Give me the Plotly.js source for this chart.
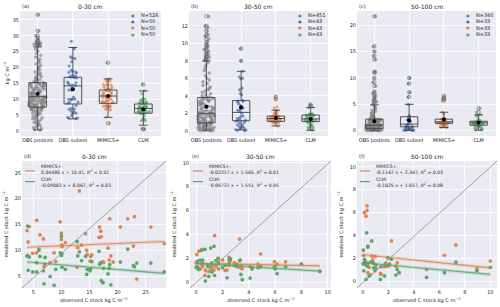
<!DOCTYPE html>
<html><head><meta charset="utf-8">
<script src="https://cdn.plot.ly/plotly-3.0.1.min.js"></script>
<style>html,body{margin:0;padding:0;background:#fff}#chart{width:500px;height:307px}</style>
</head><body><div id="chart"></div>
<script>
const categories = ['OBS podzols','OBS subset','MIMICS+','CLM'];
const depthTitles = ['0-30 cm','30-50 cm','50-100 cm'];
const panelLetters = ['(a)','(b)','(c)','(d)','(e)','(f)'];
const sampleCounts = [[528,50,50,50],[451,43,43,43],[340,33,33,33]];
const seriesColors = ['#808080','#4c72b0','#dd8452','#55a868'];

// ---- OBS podzols (all profiles), estimated from the strips
const podzol030 = [0.3,0.5,0.8,1.1,1.3,1.7,1.9,2.2,2.5,2.7,3.0,3.3,3.5,3.8,3.9,4.2,4.4,4.7,4.8,5.0,5.3,5.4,5.6,5.7,5.9,6.1,6.2,6.4,6.5,6.7,6.8,6.9,7.0,7.1,7.2,7.3,7.4,7.5,
 7.6,7.7,7.8,7.9,7.9,8.0,8.1,8.2,8.3,8.4,8.4,8.5,8.6,8.7,8.8,8.9,9.0,9.1,9.1,9.2,9.3,9.4,9.5,9.6,9.7,9.8,9.8,9.9,10.0,10.1,10.2,10.3,10.4,10.5,10.6,10.7,10.7,10.8,
 10.9,11.0,11.2,11.3,11.4,11.6,11.7,11.8,11.9,12.1,12.2,12.3,12.5,12.6,12.7,12.9,13.0,13.1,13.3,13.4,13.5,13.6,13.8,13.9,14.0,14.1,14.2,14.3,14.5,14.6,14.7,14.8,14.9,15.0,15.1,15.2,
 15.4,15.6,15.9,16.1,16.3,16.5,16.8,17.1,17.3,17.7,18.0,18.3,18.6,19.0,19.4,19.8,20.2,20.6,21.1,21.5,22.1,22.6,23.2,23.8,24.4,25.1,25.7,26.4,26.9,27.2,27.3,27.5,27.7,28.1,28.6,29.3,30.0,31.5,36.6];
const podzol3050 = [0.0,0.02,0.05,0.07,0.1,0.12,0.15,0.18,0.2,0.22,0.25,0.28,0.3,0.33,0.36,0.4,0.43,0.46,0.5,0.53,0.56,0.6,0.63,0.66,0.7,0.72,0.75,0.78,0.8,0.84,0.87,0.9,
 0.93,0.96,1.0,1.03,1.06,1.1,1.13,1.16,1.2,1.24,1.28,1.32,1.36,1.4,1.44,1.48,1.52,1.56,1.6,1.63,1.66,1.7,1.73,1.76,1.8,1.83,1.86,1.9,1.92,1.95,1.98,2.0,
 2.05,2.1,2.15,2.2,2.26,2.32,2.38,2.44,2.5,2.56,2.62,2.68,2.74,2.8,2.86,2.92,2.98,3.04,3.1,3.16,3.22,3.28,3.34,3.4,3.45,3.5,3.55,3.6,3.65,3.7,3.75,3.8,
 3.9,4.0,4.1,4.25,4.4,4.55,4.7,4.85,5.0,5.2,5.4,5.6,5.8,6.0,6.3,6.6,6.9,7.2,7.5,7.8,8.0,8.1,8.2,8.4,8.5,8.7,8.9,9.1,9.3,9.5,9.7,9.9,10.2,10.5,10.8,11.0,11.4,11.8,12.0,13.1];
const podzol50100 = [0.0,0.02,0.04,0.05,0.07,0.09,0.1,0.12,0.14,0.15,0.17,0.19,0.2,0.22,0.24,0.26,0.28,0.3,0.32,0.34,0.36,0.38,0.4,0.42,0.44,0.45,
 0.47,0.5,0.52,0.55,0.57,0.6,0.62,0.64,0.67,0.7,0.72,0.74,0.77,0.8,0.82,0.84,0.87,0.9,0.92,0.94,0.96,0.98,1.0,1.02,1.04,1.05,
 1.1,1.14,1.18,1.22,1.26,1.3,1.35,1.4,1.45,1.5,1.55,1.6,1.65,1.7,1.75,1.8,1.85,1.9,1.95,2.0,2.04,2.08,2.12,2.15,2.18,2.2,
 2.3,2.45,2.6,2.75,2.9,3.1,3.3,3.5,3.7,3.9,4.1,4.3,4.6,4.9,5.2,5.5,5.8,6.2,6.6,7.0,7.4,8.5,9.2,10.0,11.0,11.2,13.5,14.2,15.0,16.0,21.7];

// ---- paired subset: observed vs modelled (MIMICS+, CLM)
const obs030    = [3.9,4.0,4.1,4.3,4.9,5.6,5.6,6.0,6.2,6.8,6.9,7.1,8.0,8.7,9.0,9.1,9.8,10.0,10.0,10.1,10.1,10.7,12.8,12.9,13.2,13.6,14.3,14.5,14.6,15.1,15.2,15.4,16.7,16.8,17.0,17.1,17.4,17.5,18.3,18.5,18.6,18.8,19.2,20.5,21.8,22.8,23.0,23.4,25.9,28.3];
const mimics030 = [13.8,9.0,11.6,14.6,9.4,15.8,9.5,10.2,13.0,12.2,6.8,7.3,7.6,9.5,7.8,2.4,15.5,13.3,12.1,10.7,11.0,11.5,6.7,10.5,21.5,11.0,13.2,10.0,9.2,7.9,8.8,9.1,12.5,14.5,13.7,12.6,7.8,7.6,10.4,8.1,16.1,8.9,7.7,14.5,16.1,10.8,16.5,4.4,14.5,11.3];
const clm030    = [8.9,14.7,6.1,8.7,5.8,7.6,5.8,10.0,8.8,6.0,3.5,8.6,4.9,3.2,6.3,0.7,9.5,12.7,9.0,6.7,9.3,6.3,11.7,8.9,9.7,8.0,8.8,5.3,6.3,6.0,6.4,7.8,9.8,7.3,7.6,4.1,3.7,6.5,5.4,6.5,7.2,3.3,0.5,7.7,10.2,7.0,6.8,7.5,7.5,5.8];
const obs3050    = [0.0,0.05,0.1,0.15,0.2,0.3,0.4,0.45,0.5,0.66,0.7,0.9,0.96,1.1,1.2,1.2,1.35,1.4,1.5,1.67,1.7,2.0,2.2,2.35,2.5,2.5,2.6,2.9,3.1,3.3,3.35,3.4,3.5,4.1,4.25,4.7,4.9,5.95,6.0,6.15,6.8,8.0,9.4];
const mimics3050 = [1.6,2.3,1.3,1.2,2.6,1.1,1.5,2.75,1.3,0.55,1.0,1.4,0.9,1.2,1.1,1.4,1.0,3.9,1.3,2.0,1.1,1.85,0.97,1.0,1.4,2.1,1.8,1.6,1.5,3.6,1.2,1.4,1.1,1.3,1.2,1.5,2.35,1.7,1.3,1.5,1.7,1.5,0.9];
const clm3050    = [1.25,1.2,1.75,1.1,1.05,1.85,2.65,1.6,1.85,2.75,0.08,1.3,0.47,2.85,0.85,1.6,3.0,0.55,1.8,1.95,1.6,1.2,1.4,0.36,1.9,1.6,1.95,1.4,1.3,1.8,1.85,0.64,0.2,0.33,1.1,1.2,1.3,1.3,1.1,0.7,1.3,1.5,0.9];
const obs50100    = [0.05,0.05,0.08,0.13,0.18,0.26,0.31,0.34,0.34,0.4,0.4,0.5,0.6,0.7,0.78,0.86,0.96,1.04,1.38,1.43,1.7,1.8,1.95,2.1,2.25,2.6,2.7,2.85,5.0,6.4,7.3,8.95,10.0];
const mimics50100 = [2.3,1.6,1.5,6.0,1.75,5.7,1.4,6.6,6.2,1.35,0.78,1.25,0.6,2.25,1.9,1.6,2.2,1.15,0.7,0.65,1.3,1.6,1.35,1.55,3.55,1.35,1.65,0.78,1.07,2.3,3.2,1.15,1.8];
const clm50100    = [2.75,1.55,0.95,1.95,1.8,0.2,4.25,1.6,1.4,3.1,3.0,0.5,1.7,3.55,1.65,1.2,0.95,1.45,0.2,1.3,0.5,1.45,2.1,1.45,1.95,0.58,1.07,0.8,0.38,0.78,1.7,0.96,1.25];

// ---- box statistics (order: podzols, subset, MIMICS+, CLM)
const boxQ1     = [[7.5,8.5,8.7,5.6],[0.9,1.15,1.07,1.05],[0.45,0.75,1.4,1.05]];
const boxMedian = [[10.8,14.2,11.0,7.1],[2.0,2.1,1.4,1.35],[1.05,1.25,1.7,1.5]];
const boxQ3     = [[15.2,16.9,12.9,8.5],[3.8,3.45,1.68,1.8],[2.2,2.65,2.2,1.8]];
const boxLow    = [[0.3,3.8,4.3,1.8],[0.0,0.1,0.55,0.05],[0.0,0.05,0.6,0.1]];
const boxHigh   = [[26.5,26.3,16.4,12.6],[8.0,6.8,2.35,2.65],[4.9,5.0,3.5,3.0]];
const boxMean   = [[11.7,13.1,11.0,6.8],[2.75,2.7,1.45,1.35],[1.8,2.0,2.15,1.5]];
const outliers030   = [[26.9,27.2,27.3,27.5,27.7,28.1,28.6,29.3,30.0,31.5,36.6],[],[21.5,2.4],[14.6,0.7,0.5]];
const outliers3050  = [[8.1,8.2,8.4,8.5,8.7,8.9,9.1,9.3,9.5,9.7,9.9,10.2,10.5,10.8,11.0,11.4,11.8,12.0,13.1],[8.0,9.4],[3.6,3.9],[2.85,3.0]];
const outliers50100 = [[5.2,5.5,5.8,6.2,6.6,7.0,7.4,8.5,9.2,10.0,11.0,11.2,13.5,14.2,15.0,16.0,21.7],[6.4,7.3,8.95,10.0],[5.7,6.0,6.2,6.6],[3.55,4.25]];

// ---- regression fits shown in legends
const fitSlopeMimics = [0.04486,-0.02217,-0.1147];
const fitInterMimics = [10.41,1.565,2.347];
const fitR2Mimics    = ['0.01','0.01','0.03'];
const fitSlopeClm    = [-0.09003,-0.06731,-0.1025];
const fitInterClm    = [8.067,1.551,1.657];
const fitR2Clm       = ['0.03','0.05','0.08'];

// ---- layout geometry (pixels)
const W = 500, H = 307;
const topX = [[20,161],[189,328],[357,496]], topY = [11,136];
const botX = [[22,166],[190,331],[357,497]], botY = [161,288];
const topRanges = [[-1.6,37.8],[-0.6,13.7],[-1.0,22.7]];
const topDtick = [5,2,5];
const botRanges = [[[3.0,28.6],[2.675,27.3]],[[-0.47,10.25],[-0.5,10.15]],[[-0.45,10.52],[-0.55,10.5]]];
const botDtick = [5,2,2];
const legTextRows = [5.6, 11.3, 18.0, 23.7];   // px below top of lower panels
const legLineRows = [10.0, 20.6];
const px = v => v / W, py = v => 1 - v / H;

const textColor = '#262626';
const FT = 'DejaVu Sans, sans-serif';
const traces = [];
const annotations = [];
const shapes = [];
const layout = {
  width: W, height: H, margin: {l:0,r:0,t:0,b:0},
  paper_bgcolor: '#ffffff', plot_bgcolor: '#eaeaf2',
  showlegend: false, boxmode: 'overlay',
  font: {family: FT, size: 5, color: textColor},
  annotations, shapes
};
function axBase(extra){
  return Object.assign({showline:false, zeroline:false, showgrid:true, gridcolor:'#ffffff', gridwidth:0.8,
    ticks:'', tickfont:{family:FT, size:5, color:textColor}, automargin:false, fixedrange:true}, extra);
}
const podzolSets = [podzol030, podzol3050, podzol50100];
const obsSets = [obs030, obs3050, obs50100];
const mimSets = [mimics030, mimics3050, mimics50100];
const clmSets = [clm030, clm3050, clm50100];
const outlierSets = [outliers030, outliers3050, outliers50100];

for (let p = 0; p < 3; p++) {
  const xa = p === 0 ? 'x' : 'x' + (p + 1), ya = p === 0 ? 'y' : 'y' + (p + 1);
  const xk = p === 0 ? 'xaxis' : 'xaxis' + (p + 1), yk = p === 0 ? 'yaxis' : 'yaxis' + (p + 1);
  layout[xk] = axBase({domain:[px(topX[p][0]), px(topX[p][1])], type:'category', categoryorder:'array', categoryarray:categories,
    range:[-0.5,3.5], anchor: ya});
  layout[yk] = axBase({domain:[py(topY[1]), py(topY[0])], range: topRanges[p], dtick: topDtick[p], tick0:0, anchor: xa});
  const series = [podzolSets[p], obsSets[p], mimSets[p], clmSets[p]];
  // jittered strips
  series.forEach((vals, i) => {
    traces.push({type:'box', x0: categories[i], y: vals, xaxis: xa, yaxis: ya, boxpoints:'all', jitter: i === 0 ? 1 : 0.75,
      pointpos: 0, width: 0.5, whiskerwidth: 0, line:{width:0, color:'rgba(0,0,0,0)'}, fillcolor:'rgba(0,0,0,0)',
      marker:{color: seriesColors[i], size: i === 0 ? 3.4 : 3, opacity: i === 0 ? 0.65 : 0.75}, hoverinfo:'skip'});
  });
  // boxes
  traces.push({type:'box', x: categories, q1: boxQ1[p], median: boxMedian[p], q3: boxQ3[p],
    lowerfence: boxLow[p], upperfence: boxHigh[p], xaxis: xa, yaxis: ya, boxpoints:false, width:0.5, whiskerwidth:0.5,
    line:{color:'#3f3f3f', width:0.9}, fillcolor:'rgba(0,0,0,0)', hoverinfo:'skip'});
  // outliers
  const ox = [], oy = [];
  outlierSets[p].forEach((arr, i) => arr.forEach(v => { ox.push(categories[i]); oy.push(v); }));
  traces.push({type:'scatter', mode:'markers', x: ox, y: oy, xaxis: xa, yaxis: ya,
    marker:{symbol:'circle-open', size:3.4, color:'#5a5a5a', line:{width:0.6, color:'#5a5a5a'}}, hoverinfo:'skip'});
  // means
  traces.push({type:'scatter', mode:'markers', x: categories, y: boxMean[p], xaxis: xa, yaxis: ya,
    marker:{symbol:'circle', size:4, color:'#000000'}, hoverinfo:'skip'});

  // panel title + letter
  annotations.push({xref:'paper', yref:'paper', x: px(topX[p][0]), y: py(6), xanchor:'left', yanchor:'middle', showarrow:false,
    text: panelLetters[p], font:{size:5}});
  annotations.push({xref:'paper', yref:'paper', x: px((topX[p][0] + topX[p][1]) / 2), y: py(6), xanchor:'center', yanchor:'middle',
    showarrow:false, text: depthTitles[p], font:{size:6}});
  // legend (N counts)
  for (let i = 0; i < 4; i++) {
    const yy = 15 + i * 6.4;
    annotations.push({xref:'paper', yref:'paper', x: px(topX[p][1] - 28), y: py(yy), xanchor:'center', yanchor:'middle', showarrow:false,
      text:'●', font:{size:4, color: seriesColors[i]}});
    annotations.push({xref:'paper', yref:'paper', x: px(topX[p][1] - 22), y: py(yy), xanchor:'left', yanchor:'middle', showarrow:false,
      text:'N=' + sampleCounts[p][i], font:{size:5}});
  }

  // ---- bottom scatter panels
  const q = p + 3;
  const bxa = 'x' + (q + 1), bya = 'y' + (q + 1);
  layout['xaxis' + (q + 1)] = axBase({domain:[px(botX[p][0]), px(botX[p][1])], range: botRanges[p][0], dtick: botDtick[p], tick0:0, anchor: bya});
  layout['yaxis' + (q + 1)] = axBase({domain:[py(botY[1]), py(botY[0])], range: botRanges[p][1], dtick: botDtick[p], tick0:0, anchor: bxa});
  // 1:1 diagonal
  shapes.push({type:'line', xref: bxa + ' domain', yref: bya + ' domain', x0:0, y0:0, x1:1, y1:1, line:{color:'#8c8c8c', width:0.8}});
  traces.push({type:'scatter', mode:'markers', x: obsSets[p], y: mimSets[p], xaxis: bxa, yaxis: bya,
    marker:{color: seriesColors[2], size:3.7}, hoverinfo:'skip'});
  traces.push({type:'scatter', mode:'markers', x: obsSets[p], y: clmSets[p], xaxis: bxa, yaxis: bya,
    marker:{color: seriesColors[3], size:3.7}, hoverinfo:'skip'});
  const xmin = Math.min(...obsSets[p]), xmax = Math.max(...obsSets[p]);
  [[fitSlopeMimics, fitInterMimics, seriesColors[2]], [fitSlopeClm, fitInterClm, seriesColors[3]]].forEach(([s, b, c]) => {
    traces.push({type:'scatter', mode:'lines', x:[xmin, xmax], y:[s[p] * xmin + b[p], s[p] * xmax + b[p]], xaxis: bxa, yaxis: bya,
      line:{color: c, width: 3.5}, opacity: 0.22, hoverinfo:'skip'});
    traces.push({type:'scatter', mode:'lines', x:[xmin, xmax], y:[s[p] * xmin + b[p], s[p] * xmax + b[p]], xaxis: bxa, yaxis: bya,
      line:{color: c, width: 1.1}, opacity: 0.85, hoverinfo:'skip'});
  });
  const x0 = botX[p][0], x1 = botX[p][1];
  annotations.push({xref:'paper', yref:'paper', x: px(x0), y: py(156), xanchor:'left', yanchor:'middle', showarrow:false,
    text: panelLetters[q], font:{size:5}});
  annotations.push({xref:'paper', yref:'paper', x: px((x0 + x1) / 2), y: py(156), xanchor:'center', yanchor:'middle', showarrow:false,
    text: depthTitles[p], font:{size:6}});
  // axis titles
  annotations.push({xref:'paper', yref:'paper', x: px((x0 + x1) / 2), y: py(300.5), xanchor:'center', yanchor:'middle', showarrow:false,
    text:'observed C stock kg C m<sup>−2</sup>', font:{size:5}});
  annotations.push({xref:'paper', yref:'paper', x: px(x0 - 16), y: py((botY[0] + botY[1]) / 2), xanchor:'center', yanchor:'middle', showarrow:false,
    textangle:-90, text:'modeled C stock kg C m<sup>−2</sup>', font:{size:5}});
  // regression legend
  const legX = x0 + 3;
  const legEntries = [['MIMICS+:', fitSlopeMimics[p] + ' x + ' + fitInterMimics[p] + ', <i>R</i><sup>2</sup> = ' + fitR2Mimics[p], seriesColors[2]],
                      ['CLM:', fitSlopeClm[p] + ' x + ' + fitInterClm[p] + ', <i>R</i><sup>2</sup> = ' + fitR2Clm[p], seriesColors[3]]];
  legEntries.forEach(([l1, l2, c], k) => {
    const yl = botY[0] + legLineRows[k];
    shapes.push({type:'line', xref:'paper', yref:'paper', x0: px(legX), x1: px(legX + 10), y0: py(yl), y1: py(yl), line:{color:c, width:1.2}});
    annotations.push({xref:'paper', yref:'paper', x: px(legX + 14), y: py(botY[0] + legTextRows[2 * k]), xanchor:'left', yanchor:'middle', showarrow:false,
      text: l1, font:{size:4.6}});
    annotations.push({xref:'paper', yref:'paper', x: px(legX + 14), y: py(botY[0] + legTextRows[2 * k + 1]), xanchor:'left', yanchor:'middle', showarrow:false,
      text: l2, font:{size:4.6}});
  });
}
// y title of panel (a)
annotations.push({xref:'paper', yref:'paper', x: px(7), y: py((topY[0] + topY[1]) / 2), xanchor:'center', yanchor:'middle', showarrow:false,
  textangle:-90, text:'kg C m<sup>−2</sup>', font:{size:5}});

Plotly.newPlot('chart', traces, layout, {staticPlot:true, displayModeBar:false});
</script></body></html>
